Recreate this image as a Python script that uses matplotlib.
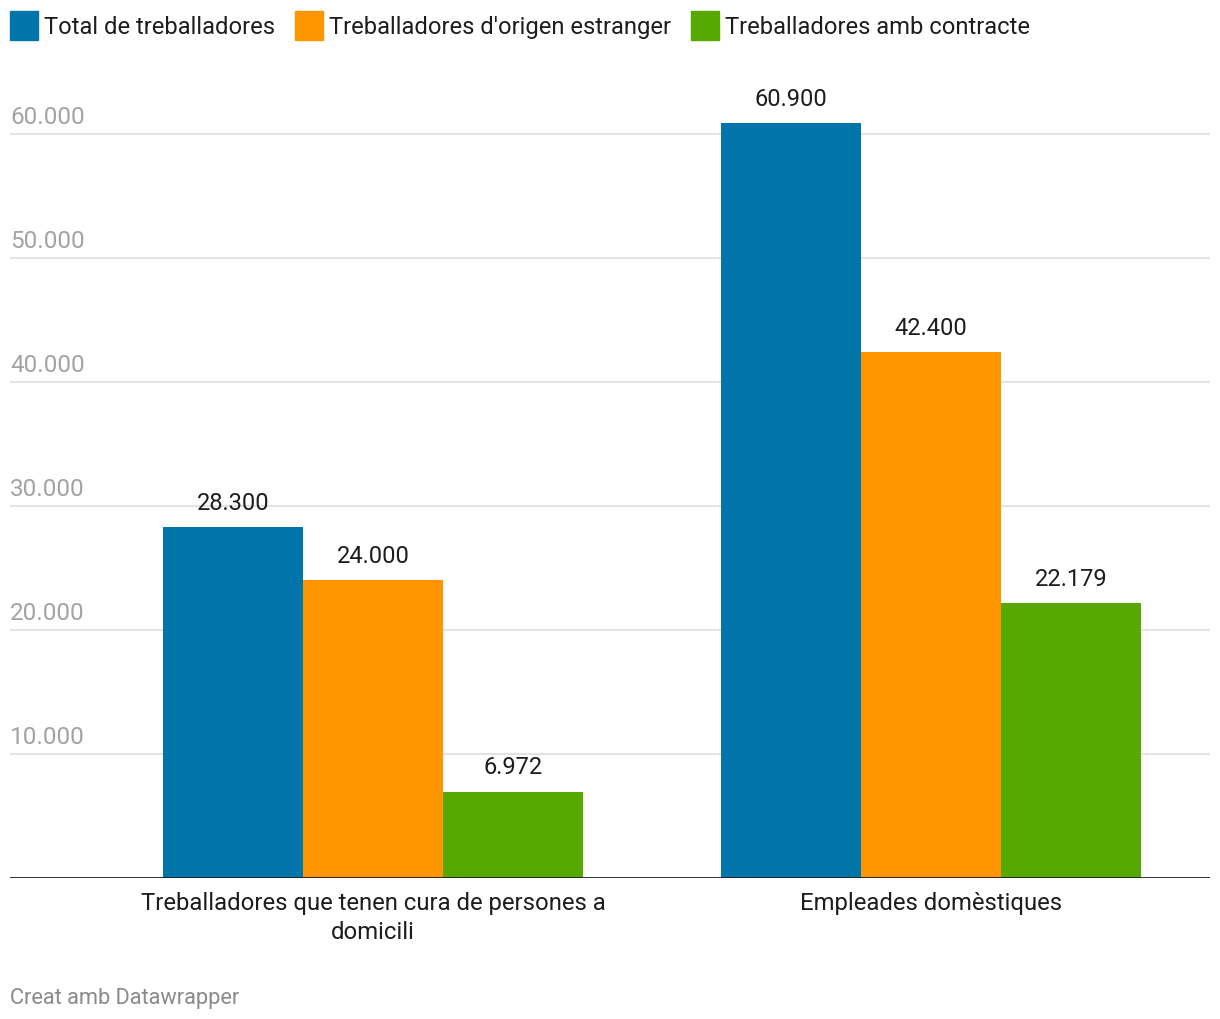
import matplotlib
matplotlib.use("Agg")
import matplotlib.pyplot as plt
from matplotlib.patches import Rectangle

plt.rcParams['font.family'] = ['Roboto', 'DejaVu Sans']

# Data
categories = ["Treballadores que tenen cura de persones a\ndomicili", "Empleades domèstiques"]
series_names = ["Total de treballadores", "Treballadores d'origen estranger", "Treballadores amb contracte"]
total = [28300, 60900]
estranger = [24000, 42400]
contracte = [6972, 22179]
yticks = [10000, 20000, 30000, 40000, 50000, 60000]
colors = ["#0174a9", "#ff9500", "#57a901"]


def fmt(v):
    return f"{v:,}".replace(",", ".")


W, H = 1220, 1020
fig = plt.figure(figsize=(W / 100, H / 100), dpi=100)
ax = fig.add_axes([10 / W, (H - 879) / H, 1200 / W, 768.8 / H])

bw = 140 / 558
xs = [0, 1]
for i, vals in enumerate([total, estranger, contracte]):
    off = (i - 1) * bw
    bars = ax.bar([x + off for x in xs], vals, width=bw, color=colors[i], zorder=3)
    for b, v in zip(bars, vals):
        ax.annotate(fmt(v), (b.get_x() + b.get_width() / 2, v), xytext=(0, 9.5),
                    textcoords="offset points", ha="center", va="bottom",
                    fontsize=17, color="#1d1d1d")

ax.set_xlim((10 - 373) / 558, (1210 - 373) / 558)
ax.set_ylim(0, 62000)

# grid + y labels inside plot
for t in yticks:
    ax.axhline(t, color="#e3e3e3", lw=1.5, zorder=1)
    ax.annotate(fmt(t), (0, t), xycoords=("axes fraction", "data"), xytext=(0, 4.5),
                textcoords="offset points", ha="left", va="bottom",
                fontsize=17.5, color="#a3a3a3")
ax.axhline(0, color="#1d1d1d", lw=2, zorder=4)

for s in ax.spines.values():
    s.set_visible(False)
ax.set_yticks([])
ax.set_xticks(xs)
ax.set_xticklabels(categories, fontsize=17.2, color="#1d1d1d", linespacing=1.3)
ax.tick_params(axis="x", length=0, pad=9.5)

# legend drawn across the top
fig.canvas.draw()
r = fig.canvas.get_renderer()
x = 10
for name, c in zip(series_names, colors):
    fig.patches.append(Rectangle((x / W, 1 - 41 / H), 28 / W, 29 / H, color=c,
                                 transform=fig.transFigure, figure=fig))
    t = fig.text((x + 34) / W, 1 - 27.5 / H, name, fontsize=17.1, color="#1d1d1d",
                 ha="left", va="center")
    bb = t.get_window_extent(r)
    x = bb.x1 + 20

fig.text(10 / W, 1 - 998.5 / H, "Creat amb Datawrapper", fontsize=15.7, color="#8a8a8a",
         ha="left", va="center")

fig.savefig("out.png", dpi=100)
